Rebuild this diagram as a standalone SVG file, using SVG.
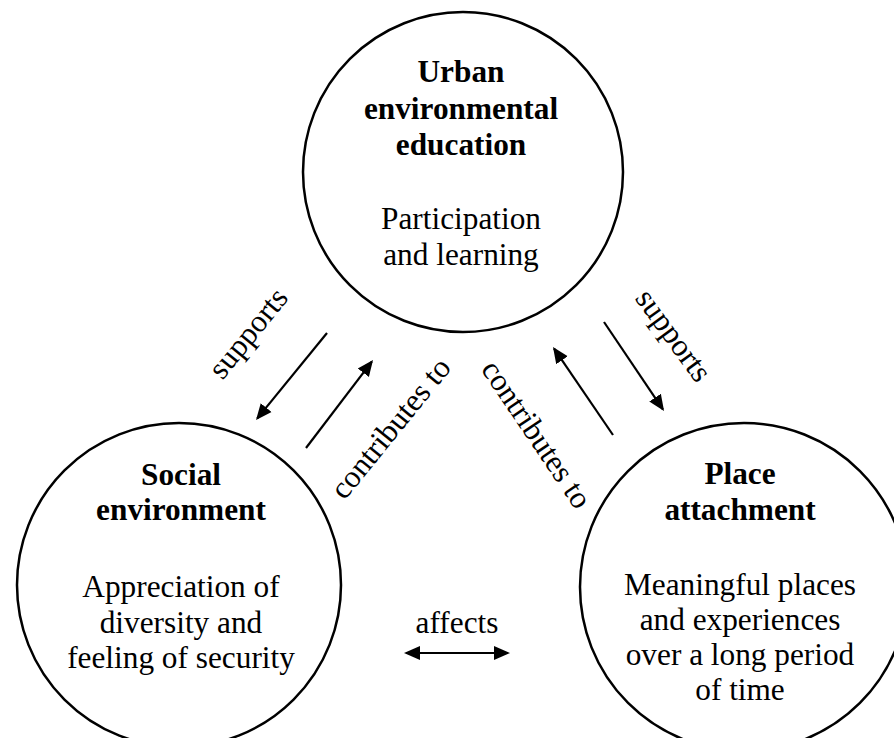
<svg xmlns="http://www.w3.org/2000/svg" width="894" height="738" viewBox="0 0 894 738">
<style>
.c{fill:none;stroke:#000;stroke-width:2.5}
.t{font-family:"Liberation Serif","Times New Roman",serif;font-size:31.3px;fill:#000;text-anchor:middle}
.b{font-weight:bold}
.a{stroke:#000;stroke-width:2.2;fill:none}
</style>
<defs>
<marker id="ah" viewBox="0 0 16 16" markerWidth="16" markerHeight="16" refX="14" refY="8" markerUnits="userSpaceOnUse" orient="auto-start-reverse">
<path d="M0,1 L16,8 L0,15 Z" fill="#000"/>
</marker>
</defs>
<rect width="894" height="738" fill="#fff"/>
<g id="urban">
<circle class="c" cx="463" cy="172" r="160"/>
<text class="t b" x="461" y="81.5">Urban</text>
<text class="t b" x="461" y="119">environmental</text>
<text class="t b" x="461" y="155">education</text>
<text class="t" x="461" y="229">Participation</text>
<text class="t" x="461" y="265">and learning</text>
</g>
<g id="social">
<circle class="c" cx="179" cy="585" r="162"/>
<text class="t b" x="181" y="485">Social</text>
<text class="t b" x="181" y="520">environment</text>
<text class="t" x="181" y="597">Appreciation of</text>
<text class="t" x="181" y="633">diversity and</text>
<text class="t" x="181" y="668">feeling of security</text>
</g>
<g id="place">
<circle class="c" cx="744" cy="587" r="164"/>
<text class="t b" x="740" y="484">Place</text>
<text class="t b" x="740" y="520">attachment</text>
<text class="t" x="740" y="595">Meaningful places</text>
<text class="t" x="740" y="630">and experiences</text>
<text class="t" x="740" y="665">over a long period</text>
<text class="t" x="740" y="700">of time</text>
</g>
<g id="connectors">
<line class="a" x1="327" y1="333" x2="257.3" y2="418.4" marker-end="url(#ah)"/>
<line class="a" x1="306" y1="448" x2="371.8" y2="361.6" marker-end="url(#ah)"/>
<line class="a" x1="613" y1="435" x2="554.1" y2="348.7" marker-end="url(#ah)"/>
<line class="a" x1="604" y1="322" x2="662.9" y2="409.3" marker-end="url(#ah)"/>
<line class="a" x1="406" y1="653" x2="508" y2="653" marker-start="url(#ah)" marker-end="url(#ah)"/>
<text class="t" x="256" y="339.5" transform="rotate(-51 256 339.5)">supports</text>
<text class="t" x="398.5" y="434.5" transform="rotate(-51 398.5 434.5)">contributes to</text>
<text class="t" x="528.2" y="439.9" transform="rotate(56 528.2 439.9)">contributes to</text>
<text class="t" x="665.5" y="341.3" transform="rotate(54 665.5 341.3)">supports</text>
<text class="t" x="457" y="633">affects</text>
</g>
</svg>
